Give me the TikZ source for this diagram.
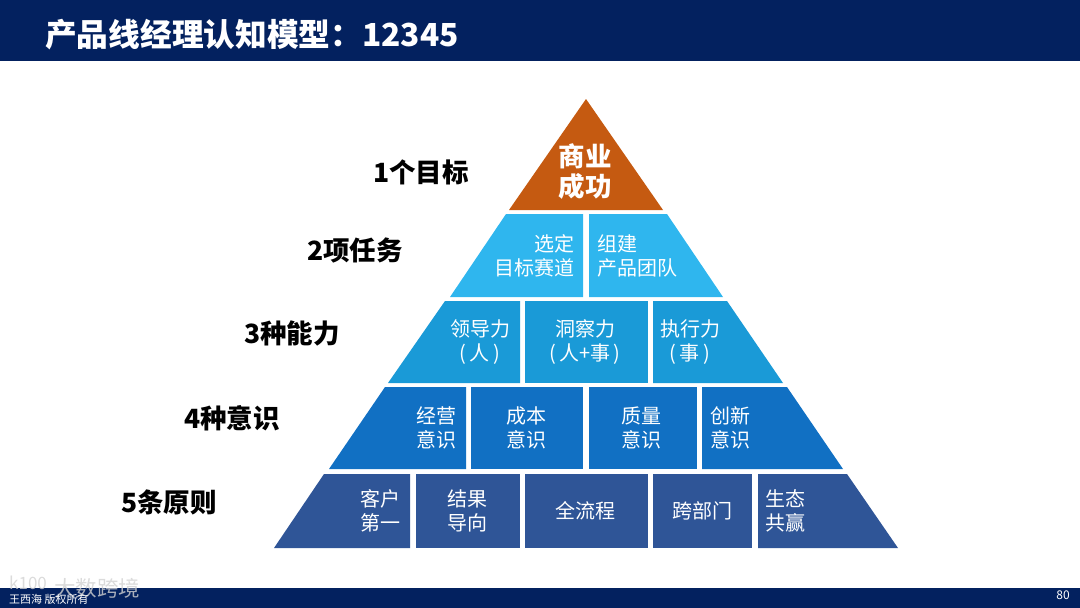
\documentclass[tikz,border=0pt]{standalone}
\usepackage{fontspec}
\setmainfont{Noto Sans CJK SC}
\usepackage{tikz}

\definecolor{headblue}{HTML}{03215F}
\definecolor{tierone}{HTML}{C55A11}
\definecolor{tiertwo}{HTML}{2FB6EE}
\definecolor{tierthree}{HTML}{1A9AD7}
\definecolor{tierfour}{HTML}{1170C3}
\definecolor{tierfive}{HTML}{2F5597}

\tikzset{
    celltext/.style={text=white, inner sep=0pt, font=\fontsize{20}{24.5}\selectfont},
    toptext/.style={text=white, inner sep=0pt, align=center, font=\fontsize{26.5}{30}\selectfont\bfseries},
    tierlabel/.style={text=black, inner sep=0pt, anchor=west, font=\fontsize{26.5}{30}\selectfont\bfseries}
}

\begin{document}
\begin{tikzpicture}[x=1pt, y=-1pt]
        \useasboundingbox (0,0) rectangle (1080,608);

        % Draw header and footer bands
        \fill[headblue] (0,0) rectangle (1080,61);
        \fill[headblue] (0,588) rectangle (1080,608);
        \node[text=white, anchor=west, inner sep=0pt, font=\fontsize{31.7}{36}\selectfont\bfseries] (title) at (45,35) {产品线经理认知模型：12345};

        % Draw top of the pyramid
        \fill[tierone] (586,99) -- (663,210) -- (509,210) -- cycle;
        \node[toptext] (goal) at (585,172) {商业\\成功};

        % Draw second tier
        \fill[tiertwo] (506,214) -- (583,214) -- (583,297) -- (450,297) -- cycle;
        \fill[tiertwo] (589,214) -- (667,214) -- (723,297) -- (589,297) -- cycle;
        \node[celltext, align=right, anchor=east] (track) at (575,256) {选定\\目标赛道};
        \node[celltext, align=left, anchor=west] (team) at (597,256) {组建\\产品团队};

        % Draw third tier
        \fill[tierthree] (445,301) -- (520,301) -- (520,383) -- (388,383) -- cycle;
        \fill[tierthree] (525,301) rectangle (648,383);
        \fill[tierthree] (653,301) -- (727,301) -- (783,383) -- (653,383) -- cycle;
        \node[celltext, align=center] (lead) at (480,342) {领导力\\(\,人\,)};
        \node[celltext, align=center] (insight) at (585,342) {洞察力\\(\,人+事\,)};
        \node[celltext, align=center] (execute) at (690,342) {执行力\\(\,事\,)};

        % Draw fourth tier
        \fill[tierfour] (385,387) -- (466,387) -- (466,469) -- (329,469) -- cycle;
        \fill[tierfour] (471,387) rectangle (583,469);
        \fill[tierfour] (589,387) rectangle (697,469);
        \fill[tierfour] (702,387) -- (787,387) -- (843,469) -- (702,469) -- cycle;
        \node[celltext, align=center] (business) at (436,428) {经营\\意识};
        \node[celltext, align=center] (cost) at (526,428) {成本\\意识};
        \node[celltext, align=center] (quality) at (641,428) {质量\\意识};
        \node[celltext, align=center] (innovate) at (730,428) {创新\\意识};

        % Draw fifth tier
        \fill[tierfive] (324,474) -- (410,474) -- (410,548) -- (274,548) -- cycle;
        \fill[tierfive] (416,474) rectangle (520,548);
        \fill[tierfive] (525,474) rectangle (648,548);
        \fill[tierfive] (653,474) rectangle (752,548);
        \fill[tierfive] (758,474) -- (847,474) -- (898,548) -- (758,548) -- cycle;
        \node[celltext, align=center] (customer) at (380,511) {客户\\第一};
        \node[celltext, align=center] (result) at (467,511) {结果\\导向};
        \node[celltext] (process) at (585,511) {全流程};
        \node[celltext] (cross) at (702,511) {跨部门};
        \node[celltext, align=center] (ecology) at (785,511) {生态\\共赢};

        % Add labels on the left
        \node[tierlabel] (one) at (373,172) {1个目标};
        \node[tierlabel] (two) at (307,250) {2项任务};
        \node[tierlabel] (three) at (244,333) {3种能力};
        \node[tierlabel] (four) at (184,418) {4种意识};
        \node[tierlabel] (five) at (121,502) {5条原则};

        % Add footer texts
        \node[text=gray!35, opacity=0.8, anchor=west, inner sep=0pt, font=\fontsize{21.5}{24}\selectfont] (mark) at (54,588) {大数跨境};
        \node[text=gray!35, opacity=0.8, anchor=west, inner sep=0pt, font=\fontsize{17}{18}\selectfont] (logo) at (9,583) {k100};
        \node[text=white, anchor=west, inner sep=0pt, font=\fontsize{11}{13}\selectfont] (owner) at (9,599) {王西海 版权所有};
        \node[text=white, inner sep=0pt, font=\fontsize{12}{14}\selectfont] (page) at (1063,595) {80};
    \end{tikzpicture}
\end{document}
